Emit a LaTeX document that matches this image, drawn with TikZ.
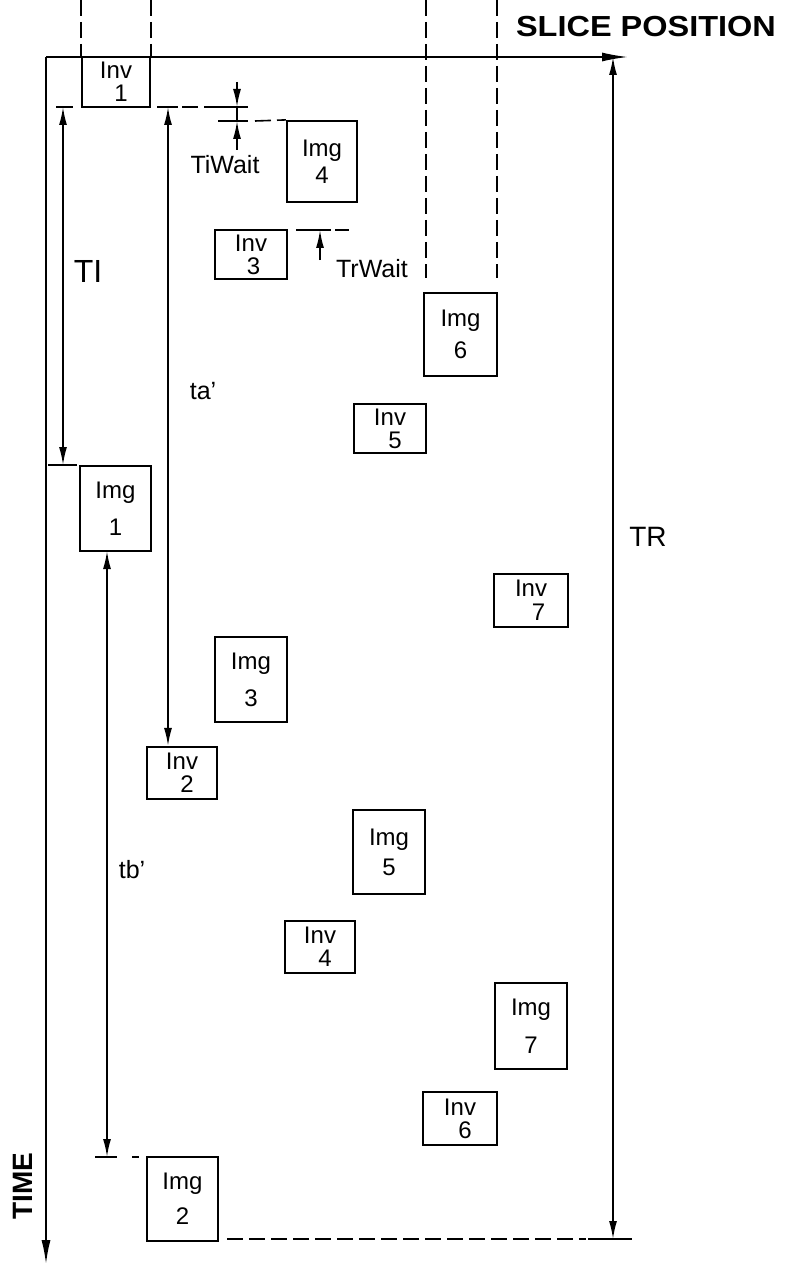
\documentclass[tikz,border=0pt]{standalone}
\usepackage{fontspec}
\setmainfont{Liberation Sans}
\usepackage{graphicx}
\usetikzlibrary{arrows.meta}
\tikzset{
  bx/.style={draw, line width=2.2pt, inner sep=0pt, font=\fontsize{24}{28}\selectfont, align=center},
  invbx/.style={bx, align=left},
  axisline/.style={line width=1.7pt},
  dimline/.style={line width=1.7pt, >={Latex[length=18pt,width=8pt]}},
  dsh/.style={line width=1.6pt, dash pattern=on 16pt off 6pt},
  tickline/.style={line width=1.9pt},
  lbl/.style={inner sep=0pt, font=\fontsize{25}{30}\selectfont},
}
\begin{document}
\begin{tikzpicture}[x=1pt,y=-1pt]
\useasboundingbox (0,0) rectangle (786,1265);

% ---- boxes ----
\node[invbx, minimum width=68pt, minimum height=50pt] (inv1) at (116,82) {Inv\\[-5pt]\hspace*{0.6em}1};
\node[bx, minimum width=70pt, minimum height=81pt] (img4) at (322,161.5) {Img\\[-1pt]4};
\node[invbx, minimum width=72pt, minimum height=49pt] (inv3) at (251,254.5) {Inv\\[-5pt]\hspace*{0.5em}3};
\node[bx, minimum width=73pt, minimum height=83pt] (img6) at (460.5,334.5) {Img\\[4pt]6};
\node[invbx, minimum width=72pt, minimum height=49pt] (inv5) at (390,428.5) {Inv\\[-5pt]\hspace*{0.6em}5};
\node[bx, minimum width=71pt, minimum height=85pt] (img1) at (115.5,508.5) {Img\\[9pt]1};
\node[invbx, minimum width=74pt, minimum height=53pt] (inv7) at (531,600.5) {Inv\\[-4pt]\hspace*{0.7em}7};
\node[bx, minimum width=72pt, minimum height=85pt] (img3) at (251,679.5) {Img\\[9pt]3};
\node[invbx, minimum width=70pt, minimum height=52pt] (inv2) at (182,773) {Inv\\[-5pt]\hspace*{0.6em}2};
\node[bx, minimum width=72pt, minimum height=84pt] (img5) at (389,852) {Img\\[2pt]5};
\node[invbx, minimum width=70pt, minimum height=52pt] (inv4) at (320,947) {Inv\\[-5pt]\hspace*{0.6em}4};
\node[bx, minimum width=72pt, minimum height=86pt] (img7) at (531,1026) {Img\\[10pt]7};
\node[invbx, minimum width=74pt, minimum height=53pt] (inv6) at (460,1118.5) {Inv\\[-5pt]\hspace*{0.6em}6};
\node[bx, minimum width=71pt, minimum height=84pt] (img2) at (182.5,1199) {Img\\[7pt]2};

% ---- axes ----
\coordinate (O) at (46,57);
\coordinate (timeEnd) at (46,1264);
\coordinate (sliceEnd) at (628,57);
\draw[axisline,-{Latex[length=24pt,width=9pt]}] (O) -- (timeEnd);
\draw[axisline,-{Latex[length=26pt,width=9pt]}] (O) -- (sliceEnd);

% ---- dashed projection lines at top ----
\draw[dsh] (inv1.north west |- 0,0) -- (inv1.north west);
\draw[dsh] (inv1.north east |- 0,0) -- (inv1.north east);
\coordinate (q1t) at (426,0);
\coordinate (q1b) at (426,278);
\coordinate (q2t) at (497,0);
\coordinate (q2b) at (497,278);
\draw[dsh] (q1t) -- (q1b);
\draw[dsh] (q2t) -- (q2b);

% ---- TI ----
\coordinate (tiT) at (63,107);
\coordinate (tiB) at (63,465);
\draw[tickline] ([xshift=-7pt]tiT) -- ([xshift=10pt]tiT);
\draw[tickline] ([xshift=-15pt]tiB) -- ([xshift=14pt]tiB);
\draw[dimline,<->] (tiT) -- (tiB);

% ---- ta' ----
\coordinate (taT) at (168,107);
\draw[tickline] ([xshift=-11pt]taT) -- ([xshift=10pt]taT);
\draw[dimline,<->] (taT) -- (taT |- inv2.north);

% ---- TiWait ----
\coordinate (twT) at (237,82);
\coordinate (tw1) at (237,107);
\coordinate (tw2) at (237,121);
\coordinate (twB) at (237,150);
\draw[dsh] ([xshift=14pt]taT) -- ([xshift=-17pt]tw1);
\draw[tickline] ([xshift=-17pt]tw1) -- ([xshift=11pt]tw1);
\draw[tickline] ([xshift=-19pt]tw2) -- ([xshift=11pt]tw2);
\draw[dsh] ([xshift=18pt]tw2) -- (img4.north west);
\draw[dimline,->] (twT) -- (tw1);
\draw[dimline] (tw1) -- (tw2);
\draw[dimline,->] (twB) -- (tw2);

% ---- TrWait ----
\coordinate (trw) at (320,230);
\coordinate (trwB) at (320,260);
\draw[tickline] ([xshift=-24pt]trw) -- ([xshift=11pt]trw);
\draw[line width=1.6pt] ([xshift=15pt]trw) -- ([xshift=29pt]trw);
\draw[dimline,->] (trwB) -- (trw);

% ---- tb' ----
\coordinate (tbT) at (107,551);
\coordinate (tbB) at (107,1157);
\draw[dimline,<->] (tbT) -- (tbB);
\draw[tickline] ([xshift=-12pt]tbB) -- ([xshift=10pt]tbB);
\draw[line width=1.6pt] ([xshift=25pt]tbB) -- ([xshift=32pt]tbB);

% ---- TR ----
\coordinate (trT) at (613,57);
\coordinate (trB) at (613,1239);
\coordinate (bd) at (227,1239);
\draw[dimline,<->] (trT) -- (trB);
\draw[tickline] ([xshift=-25pt]trB) -- ([xshift=19pt]trB);
\draw[dsh] (bd) -- ([xshift=-27pt]trB);

% ---- labels ----
\node[lbl, font=\fontsize{32}{36}\selectfont] (lTI) at (88,271) {TI};
\node[lbl] (lta) at (203,391) {ta’};
\node[lbl] (ltb) at (132,870) {tb’};
\node[lbl] (ltiw) at (225,165) {TiWait};
\node[lbl] (ltrw) at (372,269) {TrWait};
\node[lbl, font=\fontsize{28}{32}\selectfont] (lTR) at (648,537) {TR};
\node[lbl, font=\bfseries\fontsize{29}{34}\selectfont] (slice) at (646,27) {\scalebox{1.12}[1]{SLICE POSITION}};
\node[lbl, font=\bfseries\fontsize{28}{32}\selectfont, rotate=90] (time) at (23,1186) {TIME};
\end{tikzpicture}
\end{document}
